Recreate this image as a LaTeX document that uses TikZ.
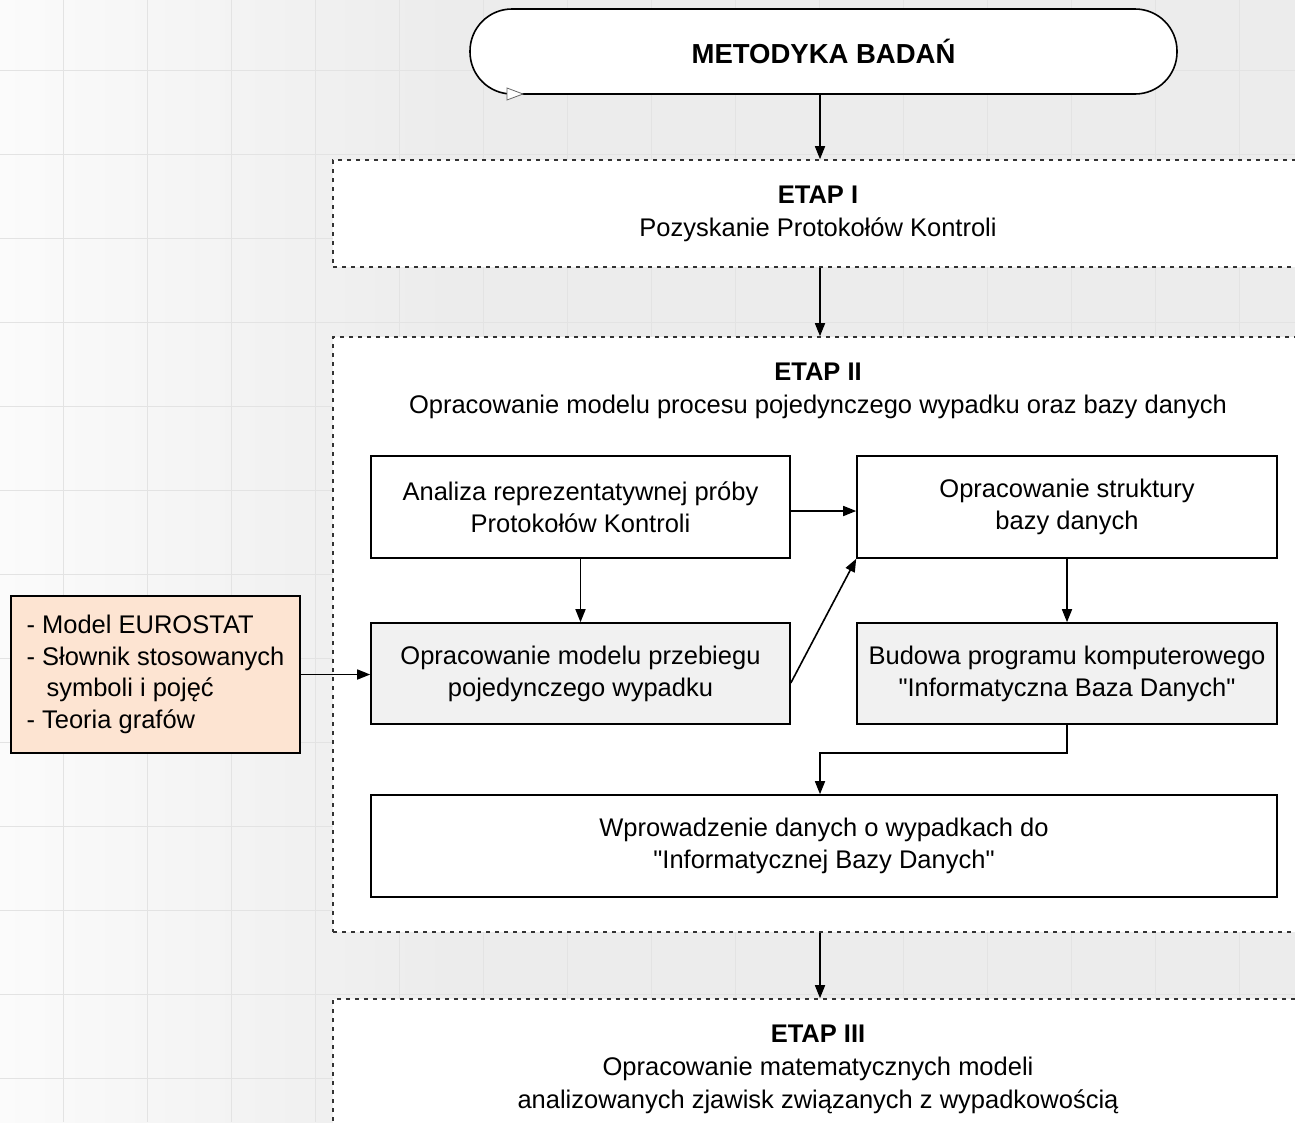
\documentclass[tikz,border=0pt]{standalone}
\usepackage{fontspec}
\setmainfont{Liberation Sans}[Ligatures=TeXOff]
\usetikzlibrary{arrows.meta}
\definecolor{peach}{HTML}{FDE4D2}
\definecolor{boxgray}{HTML}{F1F1F1}
\definecolor{bgA}{HTML}{FBFBFB}
\definecolor{bgB}{HTML}{ECECEC}
\definecolor{gridc}{HTML}{E3E3E3}
\definecolor{dashc}{HTML}{333333}
\begin{document}
\begin{tikzpicture}[x=1pt,y=-1pt,
  txt/.style={font=\fontsize{25.5}{33}\selectfont, align=center, inner sep=0pt},
  box/.style={draw=black, line width=1.6pt, rectangle, inner sep=0pt, align=center,
              font=\fontsize{25.5}{32}\selectfont},
  stage/.style={draw=dashc, line width=1.6pt, dash pattern=on 4pt off 5pt, fill=white,
                rectangle, inner sep=0pt},
  arr/.style={-{Triangle[length=13pt,width=10pt]}, line width=1.6pt},
]
\useasboundingbox (0,0) rectangle (1295,1122);
\clip (0,0) rectangle (1295,1122);
% background
\shade[left color=bgA, right color=bgB] (0,0) rectangle (450,1122);
\fill[bgB] (449,0) rectangle (1295,1122);
\foreach \gx in {63,147,...,1295} \draw[gridc, line width=1pt] (\gx,0) -- (\gx,1122);
\foreach \gy in {70,154,...,1122} \draw[gridc, line width=1pt] (0,\gy) -- (1295,\gy);

% terminator
\node[draw=black, line width=1.6pt, fill=white, rounded corners=42pt,
      minimum width=707pt, minimum height=85pt, inner sep=0pt,
      font=\fontsize{27.5}{32}\selectfont\bfseries] (T) at (823.5,51.5) {METODYKA BADAŃ};
\draw[draw=black!60, fill=white, line width=0.8pt] (507,88) -- (523,94) -- (507,100) -- cycle;

% stage containers
\node[stage, minimum width=977pt, minimum height=107pt] (S1) at (821.5,213.5) {};
\node[stage, minimum width=977pt, minimum height=595pt] (S2) at (821.5,634.5) {};
\node[stage, minimum width=977pt, minimum height=160pt] (S3) at (821.5,1079) {};

\node[txt] (t1) at (818,214) {\textbf{ETAP I}\\Pozyskanie Protokołów Kontroli};
\node[txt] (t2) at (818,390.5) {\textbf{ETAP II}\\Opracowanie modelu procesu pojedynczego wypadku oraz bazy danych};
\node[txt] (t3) at (818,1069) {\textbf{ETAP III}\\Opracowanie matematycznych modeli\\analizowanych zjawisk związanych z wypadkowością};

% inner boxes
\node[box, fill=white, minimum width=419pt, minimum height=102pt] (A) at (580.5,507) {Analiza reprezentatywnej próby\\Protokołów Kontroli};
\node[box, fill=white, minimum width=420pt, minimum height=102pt] (B) at (1067,507) {\raisebox{-2pt}{\begin{tabular}{@{}c@{}}Opracowanie struktury\\[-0.8pt]bazy danych\end{tabular}}};
\node[box, fill=boxgray, minimum width=419pt, minimum height=101pt] (C) at (580.5,673.5) {Opracowanie modelu przebiegu\\pojedynczego wypadku};
\node[box, fill=boxgray, minimum width=420pt, minimum height=101pt] (D) at (1067,673.5) {Budowa programu komputerowego\\"Informatyczna Baza Danych"};
\node[box, fill=white, minimum width=906pt, minimum height=102pt] (E) at (824,846) {Wprowadzenie danych o wypadkach do\\"Informatycznej Bazy Danych"};
\node[box, fill=peach, align=left, minimum width=289pt, minimum height=157pt,
      font=\fontsize{25.5}{31.7}\selectfont] (L) at (155.5,674.5)
      {- Model EUROSTAT\\- Słownik stosowanych\\\hspace*{20pt}symboli i pojęć\\- Teoria grafów};

% connectors
\draw[arr] (T.south -| 820,0) -- (S1.north -| 820,0);
\draw[arr] (S1.south -| 820,0) -- (S2.north -| 820,0);
\draw[arr] (S2.south -| 820,0) -- (S3.north -| 820,0);
\draw[arr] ([yshift=-4pt]A.east) -- ([yshift=-4pt]B.west);
\draw[arr] (A.south) -- (A.south |- C.north);
\draw[arr] ([yshift=-9.5pt]C.east) -- (B.south west);
\draw[arr] (B.south) -- (D.north);
\draw[arr] (D.south) -- ++(0,28) -| ([xshift=-4pt]E.north);
\draw[arr] (L.east) -- (L.east -| C.west);
\end{tikzpicture}
\end{document}
